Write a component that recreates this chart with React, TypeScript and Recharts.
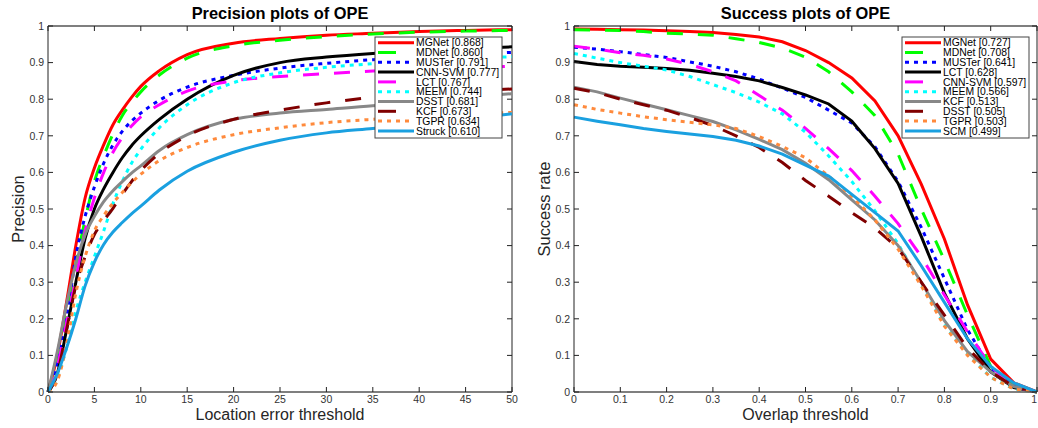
import React from "react";
import { LineChart, Line, XAxis, YAxis, ReferenceLine } from "recharts";

// ---- precision plot (location error threshold, pixels) ----
const precisionThresholds = [0, 1, 2, 3, 4, 5, 6, 7, 8, 9, 10, 12, 15, 20, 25, 30, 35, 40, 45, 50];
const precisionNames = ["MGNet", "MDNet", "MUSTer", "CNN-SVM", "LCT", "MEEM", "DSST", "KCF", "TGPR", "Struck"];
const precisionScores = ["0.868", "0.860", "0.791", "0.777", "0.767", "0.744", "0.681", "0.673", "0.634", "0.610"];
const mgnetPrecision = [0, 0.1, 0.245, 0.4, 0.53, 0.612, 0.675, 0.73, 0.77, 0.805, 0.835, 0.878, 0.922, 0.953, 0.966, 0.975, 0.98, 0.985, 0.988, 0.99];
const mdnetPrecision = [0, 0.09, 0.21, 0.35, 0.47, 0.575, 0.645, 0.705, 0.755, 0.79, 0.82, 0.866, 0.912, 0.946, 0.961, 0.971, 0.978, 0.983, 0.986, 0.988];
const musterPrecision = [0, 0.08, 0.2, 0.37, 0.48, 0.56, 0.625, 0.675, 0.712, 0.74, 0.762, 0.797, 0.833, 0.865, 0.885, 0.898, 0.908, 0.915, 0.922, 0.928];
const cnnsvmPrecision = [0, 0.05, 0.17, 0.3, 0.42, 0.5, 0.555, 0.6, 0.64, 0.673, 0.7, 0.745, 0.8, 0.865, 0.9, 0.915, 0.925, 0.932, 0.938, 0.943];
const lctPrecision = [0, 0.07, 0.19, 0.31, 0.44, 0.53, 0.6, 0.655, 0.695, 0.727, 0.752, 0.785, 0.822, 0.85, 0.862, 0.87, 0.877, 0.882, 0.886, 0.89];
const meemPrecision = [0, 0.04, 0.12, 0.22, 0.3, 0.37, 0.44, 0.515, 0.575, 0.625, 0.663, 0.722, 0.785, 0.845, 0.872, 0.887, 0.897, 0.905, 0.911, 0.916];
const dsstPrecision = [0, 0.11, 0.24, 0.35, 0.43, 0.48, 0.52, 0.55, 0.575, 0.598, 0.618, 0.66, 0.703, 0.745, 0.762, 0.772, 0.782, 0.795, 0.805, 0.815];
const kcfPrecision = [0, 0.05, 0.17, 0.29, 0.37, 0.43, 0.468, 0.502, 0.54, 0.575, 0.605, 0.652, 0.7, 0.745, 0.77, 0.79, 0.805, 0.815, 0.822, 0.828];
const tgprPrecision = [0, 0.03, 0.13, 0.27, 0.37, 0.44, 0.482, 0.516, 0.545, 0.572, 0.595, 0.632, 0.668, 0.703, 0.722, 0.736, 0.745, 0.752, 0.758, 0.764];
const struckPrecision = [0, 0.05, 0.12, 0.2, 0.29, 0.355, 0.403, 0.437, 0.463, 0.487, 0.508, 0.552, 0.603, 0.655, 0.688, 0.708, 0.72, 0.732, 0.745, 0.76];
const precisionValues = [
  mgnetPrecision, mdnetPrecision, musterPrecision, cnnsvmPrecision, lctPrecision,
  meemPrecision, dsstPrecision, kcfPrecision, tgprPrecision, struckPrecision,
];

// ---- success plot (overlap threshold) ----
const successThresholds = [0, 0.05, 0.1, 0.15, 0.2, 0.25, 0.3, 0.35, 0.4, 0.45, 0.5, 0.55, 0.6, 0.65, 0.7, 0.75, 0.8, 0.85, 0.9, 0.95, 1];
const successNames = ["MGNet", "MDNet", "MUSTer", "LCT", "CNN-SVM", "MEEM", "KCF", "DSST", "TGPR", "SCM"];
const successScores = ["0.727", "0.708", "0.641", "0.628", "0.597", "0.566", "0.513", "0.505", "0.503", "0.499"];
const mgnetSuccess = [0.992, 0.991, 0.99, 0.989, 0.987, 0.985, 0.982, 0.977, 0.97, 0.957, 0.933, 0.9, 0.858, 0.795, 0.7, 0.568, 0.418, 0.238, 0.09, 0.025, 0];
const mdnetSuccess = [0.99, 0.989, 0.988, 0.985, 0.98, 0.978, 0.975, 0.965, 0.955, 0.94, 0.915, 0.875, 0.82, 0.755, 0.65, 0.5, 0.36, 0.21, 0.07, 0.015, 0];
const musterSuccess = [0.942, 0.937, 0.93, 0.922, 0.914, 0.902, 0.89, 0.875, 0.855, 0.83, 0.805, 0.77, 0.735, 0.67, 0.575, 0.45, 0.31, 0.17, 0.065, 0.015, 0];
const lctSuccess = [0.903, 0.895, 0.89, 0.887, 0.884, 0.879, 0.871, 0.862, 0.85, 0.832, 0.812, 0.787, 0.74, 0.665, 0.57, 0.425, 0.27, 0.145, 0.055, 0.012, 0];
const cnnsvmSuccess = [0.945, 0.937, 0.927, 0.92, 0.91, 0.895, 0.875, 0.85, 0.81, 0.77, 0.72, 0.665, 0.605, 0.535, 0.46, 0.37, 0.265, 0.165, 0.07, 0.015, 0];
const meemSuccess = [0.925, 0.912, 0.9, 0.89, 0.88, 0.862, 0.84, 0.818, 0.792, 0.76, 0.71, 0.645, 0.575, 0.495, 0.405, 0.295, 0.185, 0.105, 0.04, 0.008, 0];
const kcfSuccess = [0.833, 0.82, 0.803, 0.787, 0.771, 0.755, 0.739, 0.716, 0.69, 0.662, 0.625, 0.58, 0.525, 0.47, 0.4, 0.3, 0.195, 0.11, 0.055, 0.015, 0];
const dsstSuccess = [0.83, 0.818, 0.8, 0.785, 0.77, 0.75, 0.728, 0.7, 0.668, 0.627, 0.578, 0.535, 0.49, 0.448, 0.393, 0.3, 0.21, 0.12, 0.055, 0.015, 0];
const tgprSuccess = [0.785, 0.772, 0.762, 0.752, 0.744, 0.737, 0.73, 0.72, 0.698, 0.671, 0.64, 0.59, 0.535, 0.47, 0.39, 0.29, 0.18, 0.1, 0.04, 0.008, 0];
const scmSuccess = [0.751, 0.74, 0.73, 0.72, 0.712, 0.705, 0.698, 0.688, 0.672, 0.65, 0.62, 0.59, 0.54, 0.49, 0.44, 0.345, 0.245, 0.145, 0.07, 0.025, 0];
const successValues = [
  mgnetSuccess, mdnetSuccess, musterSuccess, lctSuccess, cnnsvmSuccess,
  meemSuccess, kcfSuccess, dsstSuccess, tgprSuccess, scmSuccess,
];

const precisionTicks = [0, 5, 10, 15, 20, 25, 30, 35, 40, 45, 50];
const successTicks = [0, 0.1, 0.2, 0.3, 0.4, 0.5, 0.6, 0.7, 0.8, 0.9, 1];
const yTicks = [0, 0.1, 0.2, 0.3, 0.4, 0.5, 0.6, 0.7, 0.8, 0.9, 1];

// line style by rank (same in both panels)
const rankColors = ["#ff0000", "#00ff00", "#0000ff", "#000000", "#ff00ff", "#00ffff", "#888888", "#800000", "#ff8a3c", "#1aa0e0"];
const rankDashes = [undefined, "16 15", "4 5", undefined, "16 15", "4 5", undefined, "16 15", "4 5", undefined];

const FONT = "'Liberation Sans', Arial, Helvetica, sans-serif";
const PLOT_TOP = 26;
const PLOT_BOTTOM = 392;
const PLOT_H = PLOT_BOTTOM - PLOT_TOP;

const fmt = (v: number) => String(Math.round(v * 10) / 10);

const buildRows = (xs: number[], values: number[][]) =>
  xs.map((t, i) => {
    const row: Record<string, number> = { t };
    values.forEach((vals, k) => {
      row["s" + k] = vals[i];
    });
    return row;
  });

type PanelProps = {
  left: number;
  width: number;
  yAxisWidth: number;
  rightMargin: number;
  title: string;
  xLabel: string;
  yLabel: string;
  yLabelX: number;
  xMax: number;
  xTicks: number[];
  rows: Record<string, number>[];
  names: string[];
  scores: string[];
  curve: "monotone" | "linear";
  legendLeft: number;
};

const Panel = (p: PanelProps) => {
  const plotLeft = p.yAxisWidth;
  const plotRight = p.width - p.rightMargin;
  const plotW = plotRight - plotLeft;
  const center = (plotLeft + plotRight) / 2;

  const XTick = (props: any) => {
    const { x, y, payload } = props;
    // keep a label that would hang off the page edge inside it
    const atEdge = x > p.width - 4;
    return (
      <g>
        <line x1={x} x2={x} y1={y} y2={y - 5} stroke="#222" />
        <line x1={x} x2={x} y1={y - PLOT_H} y2={y - PLOT_H + 5} stroke="#222" />
        <text
          x={atEdge ? p.width - 1 : x}
          y={y + 11}
          textAnchor={atEdge ? "end" : "middle"}
          fontSize={10.5}
          fill="#333"
          fontFamily={FONT}
        >
          {fmt(payload.value)}
        </text>
      </g>
    );
  };

  const YTick = (props: any) => {
    const { x, y, payload } = props;
    return (
      <g>
        <line x1={x} x2={x + 5} y1={y} y2={y} stroke="#222" />
        <line x1={x + plotW} x2={x + plotW - 5} y1={y} y2={y} stroke="#222" />
        <text x={x - 4} y={y + 3.7} textAnchor="end" fontSize={10.5} fill="#333" fontFamily={FONT}>
          {fmt(payload.value)}
        </text>
      </g>
    );
  };

  const lx = p.legendLeft;
  const rowStep = 9.8;

  return (
    <div style={{ position: "absolute", left: p.left, top: 0, width: p.width, height: 428 }}>
      <LineChart
        width={p.width}
        height={428}
        data={p.rows}
        margin={{ top: PLOT_TOP, right: p.rightMargin, bottom: 0, left: 0 }}
      >
        <XAxis
          dataKey="t"
          type="number"
          domain={[0, p.xMax]}
          ticks={p.xTicks}
          height={36}
          tickLine={false}
          tickSize={0}
          tickMargin={0}
          tick={XTick}
          axisLine={{ stroke: "#555", strokeWidth: 1.5 }}
          interval={0}
        />
        <YAxis
          type="number"
          domain={[0, 1]}
          ticks={yTicks}
          width={p.yAxisWidth}
          tickLine={false}
          tickSize={0}
          tickMargin={0}
          tick={YTick}
          axisLine={{ stroke: "#222" }}
          interval={0}
        />
        <ReferenceLine y={1} stroke="#555" strokeWidth={1.5} />
        <ReferenceLine x={p.xMax} stroke="#222" />
        {p.names.map((name, k) => (
          <Line
            key={name}
            dataKey={"s" + k}
            name={name}
            type={p.curve}
            stroke={rankColors[k]}
            strokeWidth={3}
            strokeDasharray={rankDashes[k]}
            dot={false}
            activeDot={false}
            isAnimationActive={false}
          />
        ))}
      </LineChart>
      <svg
        width={p.width}
        height={428}
        style={{ position: "absolute", left: 0, top: 0, pointerEvents: "none" }}
        fontFamily={FONT}
      >
        <text x={center} y={18.5} textAnchor="middle" fontSize={16.4} fontWeight="bold" fill="#000">
          {p.title}
        </text>
        <text x={center} y={419.5} textAnchor="middle" fontSize={16} fill="#262626">
          {p.xLabel}
        </text>
        <text
          x={p.yLabelX}
          y={209}
          textAnchor="middle"
          fontSize={16.4}
          fill="#262626"
          transform={`rotate(-90 ${p.yLabelX} 209)`}
        >
          {p.yLabel}
        </text>
        <rect x={lx} y={37} width={127} height={101} fill="#fff" stroke="#444" strokeWidth={1} />
        {p.names.map((name, k) => {
          const cy = 42.7 + k * rowStep;
          const dashed = rankDashes[k] === "16 15";
          return (
            <g key={name}>
              <line
                x1={lx + 3}
                x2={dashed ? lx + 21 : lx + 39}
                y1={cy}
                y2={cy}
                stroke={rankColors[k]}
                strokeWidth={3}
                strokeDasharray={dashed ? undefined : rankDashes[k]}
              />
              <text x={lx + 41} y={cy + 3.7} fontSize={10.4} fill="#000">
                {`${name} [${p.scores[k]}]`}
              </text>
            </g>
          );
        })}
      </svg>
    </div>
  );
};

export default function App() {
  const precisionRows = buildRows(precisionThresholds, precisionValues);
  const successRows = buildRows(successThresholds, successValues);
  return (
    <div style={{ position: "relative", width: 1038, height: 428, background: "#fff", overflow: "hidden" }}>
      <style>{"body{margin:0;}"}</style>
      <Panel
        left={0}
        width={520}
        yAxisWidth={48}
        rightMargin={8}
        title="Precision plots of OPE"
        xLabel="Location error threshold"
        yLabel="Precision"
        yLabelX={24}
        xMax={50}
        xTicks={precisionTicks}
        rows={precisionRows}
        names={precisionNames}
        scores={precisionScores}
        curve="monotone"
        legendLeft={375}
      />
      <Panel
        left={520}
        width={518}
        yAxisWidth={54}
        rightMargin={1}
        title="Success plots of OPE"
        xLabel="Overlap threshold"
        yLabel="Success rate"
        yLabelX={30}
        xMax={1}
        xTicks={successTicks}
        rows={successRows}
        names={successNames}
        scores={successScores}
        curve="linear"
        legendLeft={382}
      />
    </div>
  );
}
